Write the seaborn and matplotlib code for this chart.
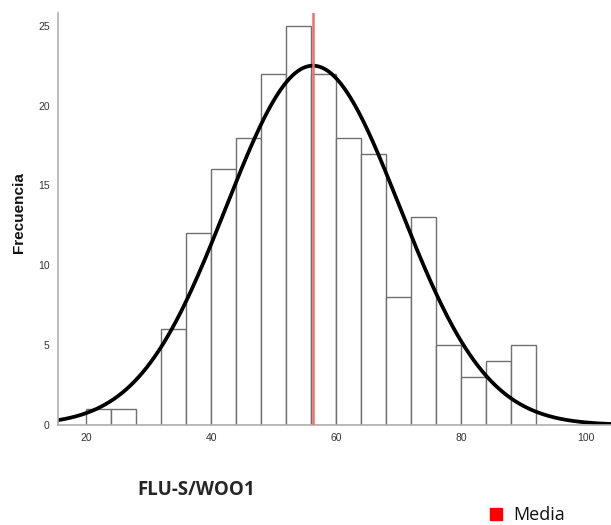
import numpy as np
import pandas as pd
import matplotlib
matplotlib.use("Agg")
import matplotlib.pyplot as plt
import seaborn as sns

# ---- data ----
bin_left = [20, 24, 28, 32, 36, 40, 44, 48, 52, 56, 60, 64, 68, 72, 76, 80, 84, 88]
counts   = [1, 1, 0, 6, 12, 16, 18, 22, 25, 22, 18, 17, 8, 13, 5, 3, 4, 5]
bin_width = 4
mean_val = 56.3
sd_val = 13.9
x_ticks = [20, 40, 60, 80, 100]
y_ticks = [0, 5, 10, 15, 20, 25]

sns.set_theme(style="white")
plt.rcParams['font.family'] = ['Liberation Sans', 'DejaVu Sans']

fig = plt.figure(figsize=(6.11, 5.25), dpi=100)
ax = fig.add_axes([58/611, 1-425/525, 1-58/611, (425-13)/525])

df = pd.DataFrame({"x": [b + bin_width/2 for b in bin_left], "n": counts})
edges = list(bin_left) + [bin_left[-1] + bin_width]
sns.histplot(data=df, x="x", weights="n", bins=edges, ax=ax,
             color="white", edgecolor="#707070", linewidth=1.0, alpha=1.0)

N = sum(counts)
xs = np.linspace(15.5, 104, 400)
ys = N * bin_width / (sd_val * np.sqrt(2*np.pi)) * np.exp(-0.5*((xs-mean_val)/sd_val)**2)
sns.lineplot(x=xs, y=ys, ax=ax, color="black", linewidth=2.7)

ax.axvline(mean_val, color="#ee6e6e", linewidth=1.8, zorder=5)

ax.set_xlim(15.5, 104)
ax.set_ylim(0, 25.8)
ax.set_xticks(x_ticks)
ax.set_yticks(y_ticks)
ax.tick_params(axis='both', labelsize=7.5, length=0, pad=6, colors="#333333")
ax.set_xlabel("")
ax.set_ylabel("")
for side in ["top", "right"]:
    ax.spines[side].set_visible(False)
for side in ["left", "bottom"]:
    ax.spines[side].set_color("#b0b0b0")
    ax.spines[side].set_linewidth(1.2)

fig.text(19/611, 1-213/525, "Frecuencia", fontsize=11, fontweight="bold",
         rotation=90, va="center", ha="center", color="#111111")
fig.text(137/611, 1-490/525, "FLU-S/WOO1", fontsize=13.5, fontweight="bold",
         family=["Open Sans", "DejaVu Sans"], va="center", ha="left")
fig.patches.append(plt.Rectangle((490/611, 1-520/525), 12/611, 12/525,
                                 transform=fig.transFigure, color="red", figure=fig))
fig.text(513/611, 1-515/525, "Media", fontsize=13,
         family=["Open Sans", "DejaVu Sans"], va="center", ha="left", color="#111111")

fig.savefig("out.png", dpi=100)
